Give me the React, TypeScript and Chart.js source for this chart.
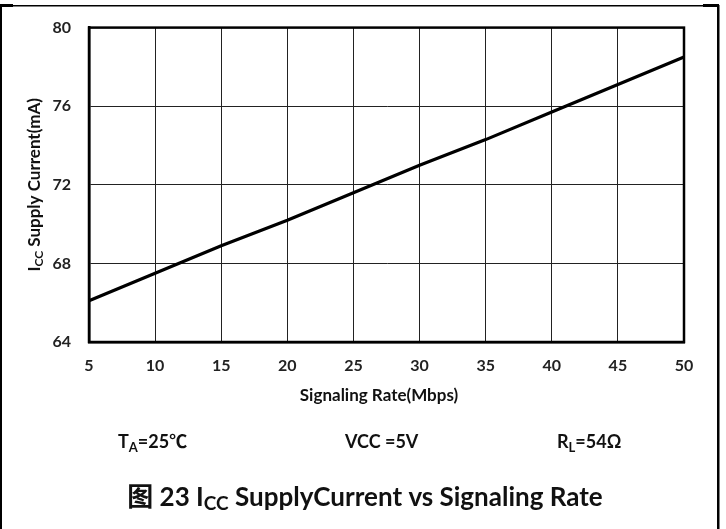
import React, { useEffect, useRef } from "react";
import { Chart, registerables } from "chart.js";

Chart.register(...registerables);

// ---- data ----
const signalingRate = [5, 10, 15, 20, 25, 30, 35, 40, 45, 50];
const supplyCurrent = [66.1, 67.5, 68.9, 70.2, 71.6, 73.0, 74.3, 75.7, 77.1, 78.5];
const xTicks = [5, 10, 15, 20, 25, 30, 35, 40, 45, 50];
const yTicks = [64, 68, 72, 76, 80];

const xTitle = "Signaling Rate(Mbps)";
const yTitleParts = [
  { t: "I", sub: false },
  { t: "CC", sub: true },
  { t: " Supply Current(mA)", sub: false },
];
const conditions = [
  [{ t: "T", sub: false }, { t: "A", sub: true }, { t: "=25℃", sub: false }],
  [{ t: "VCC =5V", sub: false }],
  [{ t: "R", sub: false }, { t: "L", sub: true }, { t: "=54Ω", sub: false }],
];
const captionParts = [
  { t: "图 23 I", sub: false },
  { t: "CC", sub: true },
  { t: " SupplyCurrent vs Signaling Rate", sub: false },
];

const FONT = "Lato, 'Noto Sans CJK SC', sans-serif";

type Part = { t: string; sub: boolean };

function richWidth(ctx: CanvasRenderingContext2D, parts: Part[], size: number, subSize: number) {
  let w = 0;
  for (const p of parts) {
    ctx.font = `bold ${p.sub ? subSize : size}px ${FONT}`;
    w += ctx.measureText(p.t).width;
  }
  return w;
}

function drawRich(
  ctx: CanvasRenderingContext2D,
  parts: Part[],
  x: number,
  y: number,
  size: number,
  subSize: number,
  subDy: number,
  align: "left" | "center"
) {
  const w = richWidth(ctx, parts, size, subSize);
  let cx = align === "center" ? x - w / 2 : x;
  ctx.textAlign = "left";
  ctx.textBaseline = "alphabetic";
  for (const p of parts) {
    ctx.font = `bold ${p.sub ? subSize : size}px ${FONT}`;
    ctx.fillText(p.t, cx, y + (p.sub ? subDy : 0));
    cx += ctx.measureText(p.t).width;
  }
}

const decorPlugin = {
  id: "decor",
  afterDraw(chart: any) {
    const ctx: CanvasRenderingContext2D = chart.ctx;
    const a = chart.chartArea;
    ctx.save();
    // plot frame
    ctx.strokeStyle = "#000";
    ctx.lineWidth = 2.5;
    ctx.strokeRect(a.left, a.top, a.right - a.left, a.bottom - a.top);

    // page borders
    ctx.fillStyle = "#000";
    ctx.fillRect(0, 5, 2, 524);
    ctx.fillRect(0, 5, 719, 1.5);
    ctx.fillRect(717, 5, 2.5, 524);
    ctx.fillRect(0, 4, 13, 3);
    ctx.fillRect(703, 4, 16, 3);

    ctx.fillStyle = "#111";
    // x title
    ctx.font = `bold 17px ${FONT}`;
    ctx.textAlign = "center";
    ctx.textBaseline = "middle";
    ctx.fillText(xTitle, 379, 396);

    // y title
    ctx.save();
    ctx.translate(40, (a.top + a.bottom) / 2);
    ctx.rotate(-Math.PI / 2);
    drawRich(ctx, yTitleParts, 0, 0, 17, 12, 3, "center");
    ctx.restore();

    // conditions
    const condX = [118, 345, 557];
    conditions.forEach((c, i) => drawRich(ctx, c, condX[i], 448, 18, 13, 4, "left"));

    // caption
    drawRich(ctx, captionParts, 365, 506, 26, 19, 4, "center");
    ctx.restore();
  },
};

export default function App() {
  const ref = useRef<HTMLCanvasElement | null>(null);
  useEffect(() => {
    if (!ref.current) return;
    const chart = new Chart(ref.current, {
      type: "line",
      data: {
        datasets: [
          {
            data: signalingRate.map((x, i) => ({ x, y: supplyCurrent[i] })),
            borderColor: "#000",
            borderWidth: 3.2,
            pointRadius: 0,
            tension: 0,
            fill: false,
          },
        ],
      },
      options: {
        responsive: false,
        animation: false,
        layout: { padding: { left: 0, top: 24, right: 42, bottom: 0 } },
        plugins: { legend: { display: false }, tooltip: { enabled: false }, title: { display: false } },
        scales: {
          x: {
            type: "linear",
            min: 5,
            max: 50,
            afterBuildTicks: (s: any) => {
              s.ticks = xTicks.map((v) => ({ value: v }));
            },
            afterFit: (s: any) => {
              s.height = 187;
            },
            ticks: {
              color: "#222",
              font: { family: FONT, size: 16, weight: "bold" },
              padding: 14,
              maxRotation: 0,
              autoSkip: false,
            },
            grid: { color: "#222", lineWidth: 1, drawTicks: false },
            border: { display: true, color: "#000", width: 2.5 },
          },
          y: {
            type: "linear",
            min: 64,
            max: 80,
            afterBuildTicks: (s: any) => {
              s.ticks = yTicks.map((v) => ({ value: v }));
            },
            afterFit: (s: any) => {
              s.width = 89;
            },
            ticks: {
              color: "#222",
              font: { family: FONT, size: 16, weight: "bold" },
              padding: 18,
              autoSkip: false,
            },
            grid: { color: "#222", lineWidth: 1, drawTicks: false },
            border: { display: true, color: "#000", width: 2.5 },
          },
        },
      },
      plugins: [decorPlugin],
    });
    return () => chart.destroy();
  }, []);
  return (
    <div style={{ position: "absolute", left: 0, top: 0, width: 726, height: 529, background: "#fff" }}>
      <canvas ref={ref} width={726} height={529} style={{ width: 726, height: 529, display: "block" }} />
    </div>
  );
}
